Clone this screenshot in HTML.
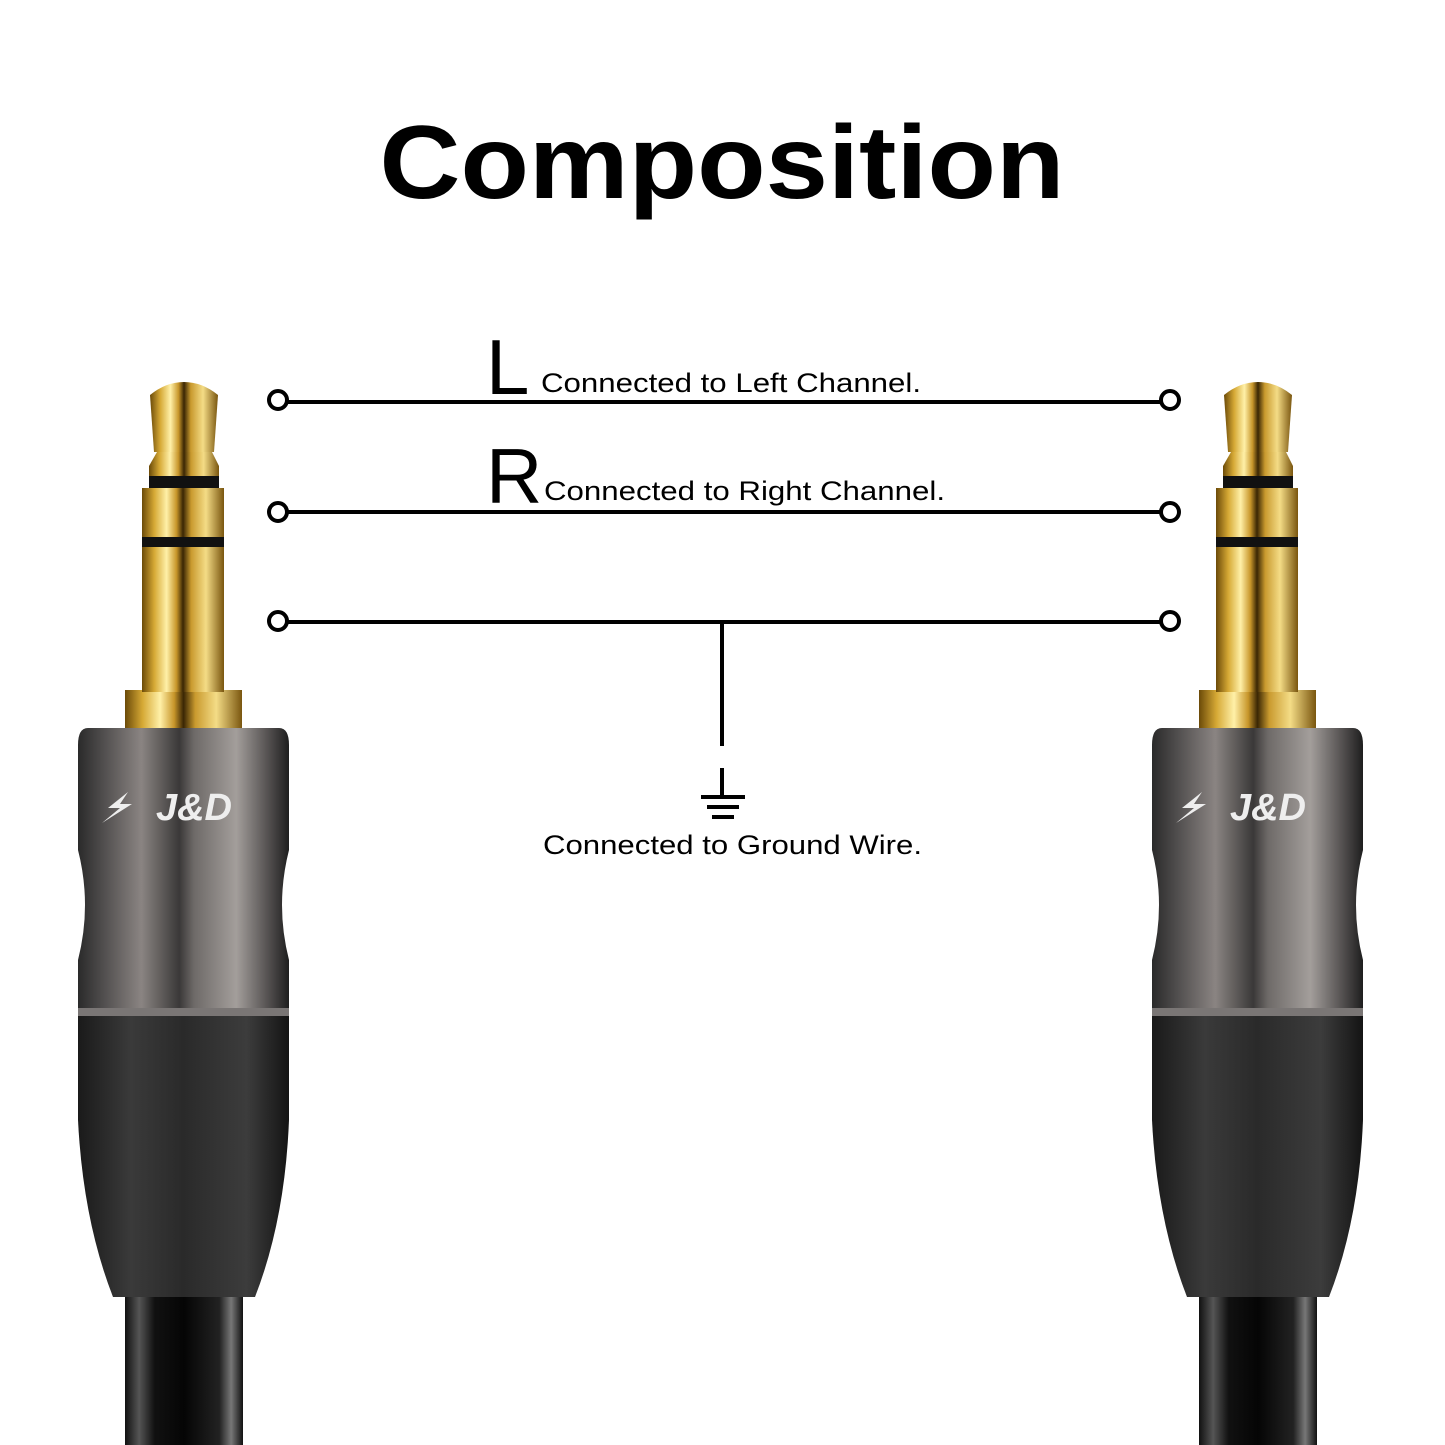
<!DOCTYPE html>
<html><head><meta charset="utf-8"><style>html,body{margin:0;padding:0;background:#fff}svg{display:block}</style></head>
<body>
<svg width="1445" height="1445" viewBox="0 0 1445 1445" xmlns="http://www.w3.org/2000/svg">
<defs>
<linearGradient id="gold" x1="0" x2="1" y1="0" y2="0">
<stop offset="0" stop-color="#6b4a08"/><stop offset="0.15" stop-color="#d6a935"/><stop offset="0.3" stop-color="#fff0a8"/><stop offset="0.42" stop-color="#c8962a"/><stop offset="0.5" stop-color="#3a2604"/><stop offset="0.6" stop-color="#c99a2e"/><stop offset="0.78" stop-color="#f4dc86"/><stop offset="1" stop-color="#7a560f"/>
</linearGradient>
<linearGradient id="gray" x1="0" x2="1" y1="0" y2="0">
<stop offset="0" stop-color="#2a2a2a"/><stop offset="0.1" stop-color="#4a4848"/><stop offset="0.3" stop-color="#8a8482"/><stop offset="0.48" stop-color="#3a3838"/><stop offset="0.55" stop-color="#6e6a68"/><stop offset="0.75" stop-color="#a39e9b"/><stop offset="0.92" stop-color="#4a4747"/><stop offset="1" stop-color="#1e1e1e"/>
</linearGradient>
<linearGradient id="blk" x1="0" x2="1" y1="0" y2="0">
<stop offset="0" stop-color="#1a1a1a"/><stop offset="0.25" stop-color="#3a3a3a"/><stop offset="0.5" stop-color="#2a2a2a"/><stop offset="0.8" stop-color="#3c3c3c"/><stop offset="1" stop-color="#141414"/>
</linearGradient>
<linearGradient id="cab" x1="0" x2="1" y1="0" y2="0">
<stop offset="0" stop-color="#111"/><stop offset="0.12" stop-color="#555"/><stop offset="0.25" stop-color="#111"/><stop offset="0.5" stop-color="#050505"/><stop offset="0.8" stop-color="#222"/><stop offset="0.9" stop-color="#777"/><stop offset="1" stop-color="#111"/>
</linearGradient>
<g id="jack">
<rect x="125" y="1297" width="118" height="150" fill="url(#cab)"/>
<path d="M78 1015 L289 1015 L289 1120 Q285 1220 255 1297 L113 1297 Q83 1220 78 1120 Z" fill="url(#blk)"/>
<path d="M88 728 Q78 728 78 745 L78 1015 L289 1015 L289 745 Q289 728 279 728 Z" fill="url(#gray)"/>
<path d="M78 850 Q92 905 78 960 L78 850 Z M289 850 Q275 905 289 960 Z" fill="#fff"/>
<rect x="78" y="1008" width="211" height="8" fill="#7a7675"/>
<rect x="125" y="690" width="117" height="38" fill="url(#gold)"/>
<rect x="142" y="488" width="82" height="204" fill="url(#gold)"/>
<rect x="142" y="537" width="82" height="10" fill="#111"/>
<rect x="149" y="476" width="70" height="12" fill="#111"/>
<path d="M149 466 L219 466 L219 476 L149 476 Z" fill="url(#gold)"/>
<path d="M157 452 L212 452 L219 466 L149 466 Z" fill="url(#gold)"/>
<path d="M150 395 Q166 382 184 382 Q202 382 218 395 L214 452 L154 452 Z" fill="url(#gold)"/>
<path d="M128 792 L108 808 L120 808 L102 823 L132 804 L120 804 Z" fill="#eee"/>
<text x="194" y="820" text-anchor="middle" font-family="Liberation Sans, sans-serif" font-style="italic" font-weight="bold" font-size="38" fill="#eee">J&amp;D</text>
</g>
</defs>
<use href="#jack"/>
<use href="#jack" transform="translate(1074,0)"/>
<text x="722" y="198" text-anchor="middle" font-family="Liberation Sans, sans-serif" font-weight="bold" font-size="104" textLength="685" lengthAdjust="spacingAndGlyphs" fill="#000">Composition</text>
<g stroke="#000" stroke-width="4" fill="#fff">
<line x1="287" y1="402" x2="1161" y2="402"/>
<line x1="287" y1="512" x2="1161" y2="512"/>
<line x1="287" y1="622" x2="1161" y2="622"/>
<line x1="722" y1="622" x2="722" y2="746"/>
<circle cx="278" cy="400" r="9"/><circle cx="1170" cy="400" r="9"/>
<circle cx="278" cy="512" r="9"/><circle cx="1170" cy="512" r="9"/>
<circle cx="278" cy="621" r="9"/><circle cx="1170" cy="621" r="9"/>
<line x1="722" y1="768" x2="722" y2="797"/>
<line x1="701" y1="797" x2="745" y2="797"/>
<line x1="707" y1="807" x2="739" y2="807"/>
<line x1="712" y1="817" x2="734" y2="817"/>
</g>
<g font-family="Liberation Sans, sans-serif" fill="#000">
<text x="486" y="394" font-size="78">L</text>
<text x="541" y="392" font-size="27" textLength="380" lengthAdjust="spacingAndGlyphs">Connected to Left Channel.</text>
<text x="486" y="503" font-size="78">R</text>
<text x="544" y="500" font-size="27" textLength="401" lengthAdjust="spacingAndGlyphs">Connected to Right Channel.</text>
<text x="543" y="854" font-size="27" textLength="379" lengthAdjust="spacingAndGlyphs">Connected to Ground Wire.</text>
</g>
</svg>
</body></html>
